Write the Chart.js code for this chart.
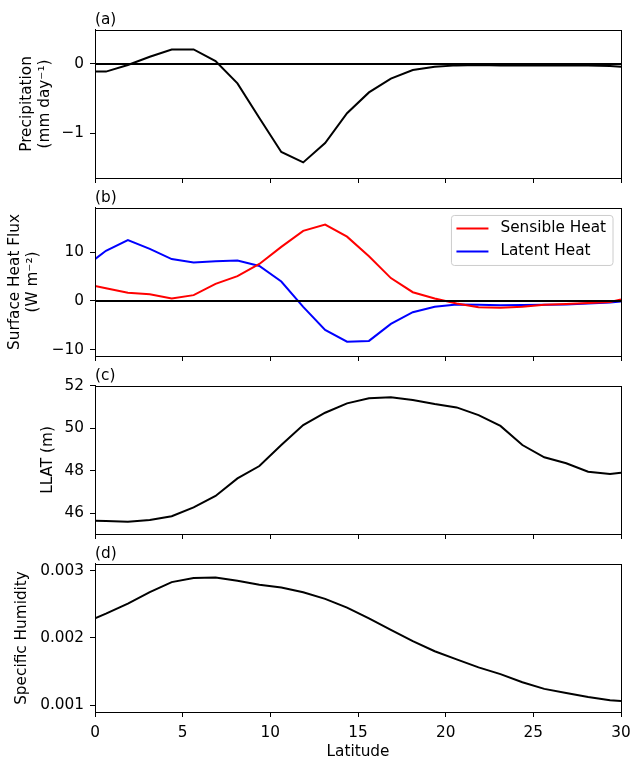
<!DOCTYPE html>
<html>
<head>
<meta charset="utf-8">
<script src="https://cdn.jsdelivr.net/npm/chart.js@4.4.0/dist/chart.umd.min.js"></script>
<style>
body{margin:0;background:#fff;}
#wrap{position:relative;width:632px;height:758px;}
#wrap canvas{position:absolute;left:0;}
</style>
</head>
<body>
<div id="wrap">
<canvas id="pa" width="632" height="188" style="top:0px"></canvas>
<canvas id="pb" width="632" height="188" style="top:178px"></canvas>
<canvas id="pc" width="632" height="188" style="top:356px"></canvas>
<canvas id="pd" width="632" height="224" style="top:534px"></canvas>
</div>
<script>
// data
const lat = [0, 0.625, 1.875, 3.125, 4.375, 5.625, 6.875, 8.125, 9.375, 10.625, 11.875, 13.125, 14.375,
  15.625, 16.875, 18.125, 19.375, 20.625, 21.875, 23.125, 24.375, 25.625, 26.875, 28.125, 29.375, 30];
const precip = [-0.11, -0.11, -0.015, 0.105, 0.21, 0.21, 0.043, -0.28, -0.78, -1.27, -1.42, -1.14, -0.71,
  -0.41, -0.21, -0.087, -0.04, -0.02, -0.015, -0.02, -0.02, -0.02, -0.02, -0.02, -0.03, -0.04];
const sensible = [3.1, 2.6, 1.7, 1.4, 0.5, 1.2, 3.5, 5.1, 7.6, 11.1, 14.4, 15.7, 13.2,
  9.2, 4.7, 1.8, 0.5, -0.5, -1.3, -1.4, -1.2, -0.8, -0.6, -0.4, -0.2, 0.3];
const latent = [8.6, 10.3, 12.5, 10.7, 8.6, 7.9, 8.15, 8.3, 7.2, 4.0, -1.2, -5.95, -8.35,
  -8.2, -4.7, -2.3, -1.2, -0.75, -0.8, -0.9, -0.85, -0.8, -0.7, -0.5, -0.3, -0.1];
const llat = [45.65, 45.64, 45.61, 45.69, 45.87, 46.28, 46.82, 47.65, 48.23, 49.22, 50.16, 50.74, 51.18,
  51.42, 51.47, 51.34, 51.15, 50.99, 50.63, 50.12, 49.22, 48.64, 48.36, 47.96, 47.85, 47.92];
const qv = [0.00229, 0.00236, 0.00251, 0.00268, 0.00283, 0.00289, 0.0029, 0.00285, 0.00279, 0.00275, 0.00268, 0.00258, 0.00245,
  0.00229, 0.00212, 0.00195, 0.0018, 0.00168, 0.00156, 0.00146, 0.00134, 0.00124, 0.00118, 0.00112, 0.00107, 0.00106];

// tick labels
const latTicks = [0, 5, 10, 15, 20, 25, 30];
const precipTicks = [-1, 0];
const fluxTicks = [-10, 0, 10];
const llatTicks = [46, 48, 50, 52];
const qvTicks = [0.001, 0.002, 0.003];

Chart.defaults.font.family = "'DejaVu Sans', sans-serif";
Chart.defaults.font.size = 15.3;
Chart.defaults.color = '#000';

const pts = vals => lat.map((x, i) => ({x: x, y: vals[i]}));
const minus = v => String(v).replace('-', '\u2212');

// box round the plot area, like matplotlib spines
const frame = {
  id: 'frame',
  afterDraw(c) {
    const a = c.chartArea, ctx = c.ctx;
    ctx.save();
    ctx.strokeStyle = '#000';
    ctx.lineWidth = 1;
    ctx.strokeRect(Math.round(a.left) + 0.5, Math.round(a.top) + 0.5,
      Math.round(a.right - a.left), Math.round(a.bottom - a.top));
    ctx.restore();
  }
};

// legend box in the top right corner of the plot
const boxLegend = {
  id: 'boxLegend',
  afterDatasetsDraw(c) {
    const ctx = c.ctx, a = c.chartArea;
    const items = c.data.datasets.filter(d => d.label);
    ctx.save();
    ctx.font = "15.3px 'DejaVu Sans', sans-serif";
    const tw = Math.max(...items.map(d => ctx.measureText(d.label).width));
    const w = 5 + 32 + 12 + tw + 7, h = 50;
    const x = a.right - 8 - w, y = a.top + 7.5;
    ctx.beginPath();
    ctx.roundRect(x, y, w, h, 3);
    ctx.fillStyle = 'rgba(255,255,255,0.8)';
    ctx.fill();
    ctx.strokeStyle = '#cccccc';
    ctx.lineWidth = 1;
    ctx.stroke();
    items.forEach((d, i) => {
      const cy = y + 13 + i * 23;
      ctx.strokeStyle = d.borderColor;
      ctx.lineWidth = 2;
      ctx.beginPath();
      ctx.moveTo(x + 5, cy);
      ctx.lineTo(x + 37, cy);
      ctx.stroke();
      ctx.fillStyle = '#000';
      ctx.textBaseline = 'middle';
      ctx.fillText(d.label, x + 49, cy);
    });
    ctx.restore();
  }
};

function line(vals, color, label) {
  return {label: label, data: pts(vals), borderColor: color, borderWidth: 2, pointRadius: 0, tension: 0, fill: false};
}

function panel(id, tag, datasets, yMin, yMax, yTicks, fmt, yTitle, titlePad, bottom, extra) {
  const axisGrid = {display: true, drawOnChartArea: false, drawTicks: true, tickLength: 5, tickColor: '#000', tickWidth: 1};
  const axisBorder = {display: true, color: '#000', width: 1};
  new Chart(document.getElementById(id).getContext('2d'), {
    type: 'line',
    data: {datasets: datasets},
    options: {
      responsive: false,
      animation: false,
      devicePixelRatio: 1,
      layout: {padding: {left: 0, right: 11, top: 0, bottom: 0}},
      scales: {
        x: {
          type: 'linear', min: 0, max: 30,
          afterBuildTicks: s => { s.ticks = latTicks.map(v => ({value: v})); },
          afterFit: s => { s.height = bottom ? 46 : 10; s.paddingLeft = 0; s.paddingRight = 0; },
          grid: axisGrid, border: axisBorder,
          ticks: {display: true, padding: 7, maxRotation: 0, autoSkip: false,
            callback: v => bottom ? String(v) : ''},
          title: {display: bottom, text: 'Latitude', padding: {top: 0, bottom: 0}, font: {size: 15.3, lineHeight: 0.8}}
        },
        y: {
          min: yMin, max: yMax,
          afterBuildTicks: s => { s.ticks = yTicks.map(v => ({value: v})); },
          afterFit: s => { s.width = 95; s.paddingTop = 0; s.paddingBottom = 0; },
          grid: axisGrid, border: axisBorder,
          ticks: {padding: 6, callback: fmt},
          title: {display: true, text: yTitle, padding: {top: titlePad, bottom: 0}, font: {size: 15.3, lineHeight: 1.2}}
        }
      },
      plugins: {
        title: {display: true, text: tag, align: 'start', fullSize: false, padding: {top: 10.8, bottom: 0.8},
          font: {size: 15.3, weight: 'normal', lineHeight: 1.2}},
        legend: {display: false},
        tooltip: {enabled: false}
      }
    },
    plugins: extra ? [frame, extra] : [frame]
  });
}

const zero = () => line(lat.map(() => 0), '#000');

panel('pa', '(a)', [zero(), line(precip, '#000')], -1.645, 0.491, precipTicks, minus,
  ['Precipitation', '(mm day\u207B\u00B9)'], 17.5, false);

panel('pb', '(b)', [zero(), line(sensible, '#ff0000', 'Sensible Heat'), line(latent, '#0000ff', 'Latent Heat')],
  -11.3, 19.1, fluxTicks, minus, ['Surface Heat Flux', '(W m\u207B\u00B2)'], 5.8, false, boxLegend);

panel('pc', '(c)', [line(llat, '#000')], 45.03, 52.0, llatTicks, v => String(v),
  'LLAT (m)', 39.2, false);

panel('pd', '(d)', [line(qv, '#000')], 0.000896, 0.0031, qvTicks, v => v.toFixed(3),
  'Specific Humidity', 13.0, true);
</script>
</body>
</html>
